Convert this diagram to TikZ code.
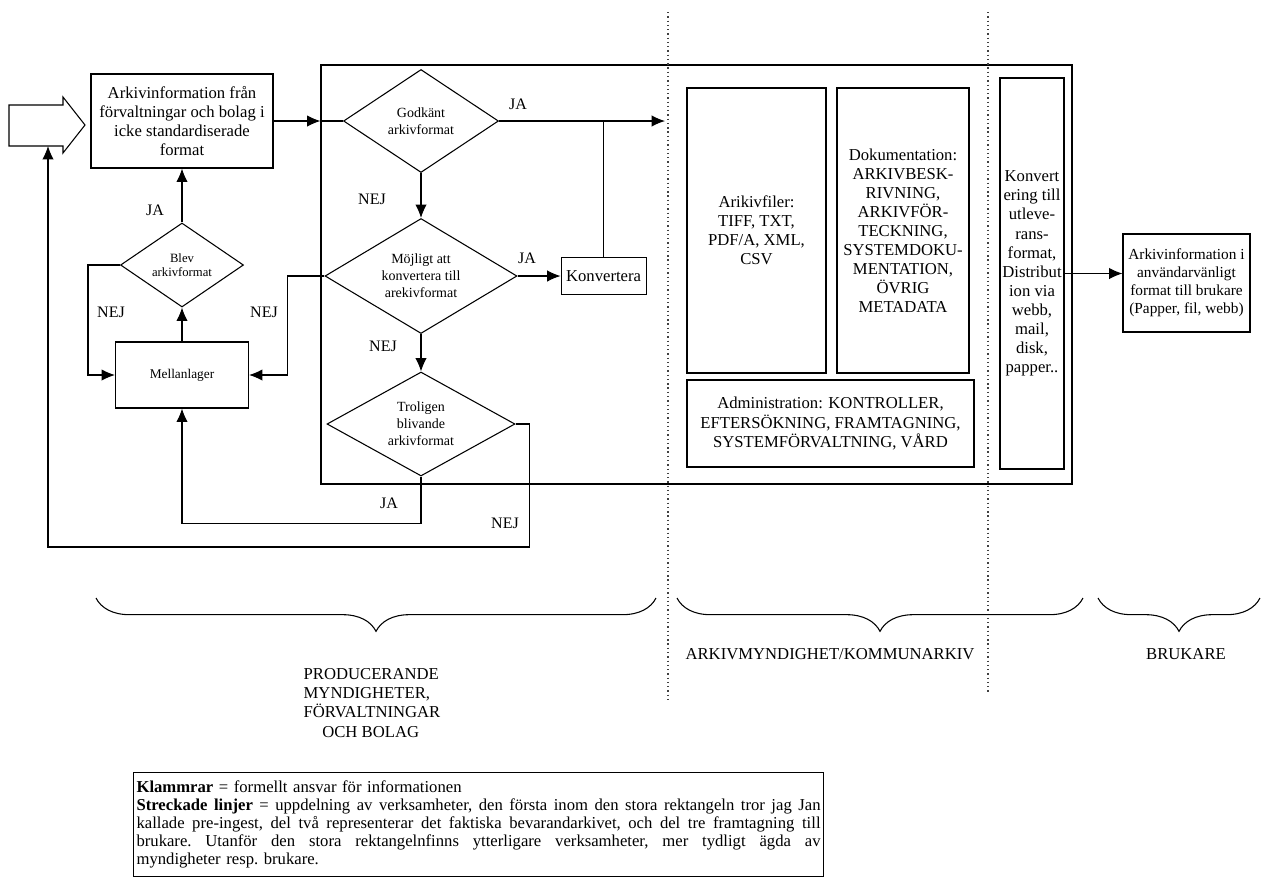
\documentclass[tikz,border=0pt]{standalone}
\usepackage{fontspec}
\setmainfont{Liberation Serif}
\usetikzlibrary{positioning,arrows.meta,shapes.geometric,decorations.pathreplacing,fit}
\newlength{\px}
\setlength{\px}{0.75pt}
\newcommand{\fmain}{\fontsize{12.5}{14.3}\selectfont}
\newcommand{\fdia}{\fontsize{10.5}{12.8}\selectfont}
\newcommand{\jline}[1]{\leavevmode\hbox to 684\px{\spaceskip=.25em plus 1fil\xspaceskip=.25em plus 1fil #1}}

\begin{document}
\begin{tikzpicture}[x=0.75pt, y=-0.75pt, line width=0.8pt,
  box/.style={draw, font=\fmain, align=center, inner sep=1pt},
  choice/.style={draw, diamond, font=\fdia, align=center, inner sep=0pt},
  lbl/.style={font=\fontsize{12}{14}\selectfont},
  arr/.style={-{Latex[length=10pt,width=8.5pt]}},
  dots/.style={line width=1pt, black!75, dash pattern=on 1pt off 2.2pt}]
\fill[white] (0,0) rectangle (1263,883);
\useasboundingbox (0,0) rectangle (1263,883);
\draw (9,105) -- (63,105) -- (63,97) -- (85,125) -- (63,153) -- (63,146) -- (9,146) -- cycle;
\coordinate (inbot) at (48,146);
\node[box, minimum width=182\px, minimum height=94\px] (info) at (182,121) {Arkivinformation från\\förvaltningar och bolag i\\icke standardiserade\\format};
\node[draw, fit={(321,65) (1072,484)}, inner sep=0pt] (stor) {};
\node[choice, aspect=1.5, minimum width=155\px, minimum height=103\px] (godk) at (421,121) {Godkänt\\arkivformat};
\node[choice, aspect=1.67, minimum width=192\px, minimum height=115\px] (moj) at (421,276) {Möjligt att\\konvertera till\\arekivformat};
\node[choice, aspect=1.8, minimum width=188\px, minimum height=104\px] (trol) at (421,424) {Troligen\\blivande\\arkivformat};
\node[box, minimum width=85\px, minimum height=37\px, right=43\px of moj] (konv) {Konvertera};
\node[choice, font=\fontsize{9.5}{11}\selectfont, aspect=1.46, minimum width=123\px, minimum height=84\px] (blev) at (182,265) {Blev\\arkivformat};
\node[box, font=\fontsize{10}{12}\selectfont, minimum width=133\px, minimum height=66\px] (mell) at (182,375) {Mellanlager};
\node[box, minimum width=139\px, minimum height=285\px] (filer) at (756.5,230.5) {Arikivfiler:\\TIFF, TXT,\\PDF/A, XML,\\CSV};
\node[box, minimum width=132\px, minimum height=285\px] (dok) at (903,230.5) {Dokumentation:\\ARKIVBESK-\\RIVNING,\\ARKIVFÖR-\\TECKNING,\\SYSTEMDOKU-\\MENTATION,\\ÖVRIG\\METADATA};
\node[box, minimum width=287\px, minimum height=87\px] (adm) at (830.5,423.5) {Administration: KONTROLLER,\\EFTERSÖKNING, FRAMTAGNING,\\SYSTEMFÖRVALTNING, VÅRD};
\node[box, inner sep=0pt, minimum width=64\px, minimum height=391\px] (utlev) at (1032,273.5) {Konvert\\ering till\\utleve-\\rans-\\format,\\Distribut\\ion via\\webb,\\mail,\\disk,\\papper..};
\node[box, font=\fontsize{11.5}{13.5}\selectfont, minimum width=127\px, minimum height=98\px] (bruk) at (1186.5,283) {Arkivinformation i\\användarvänligt\\format till brukare\\(Papper, fil, webb)};
\coordinate (arkivin) at (665,121);
\draw[arr] (info.east) -- (info.east -| stor.west);
\draw (info.east -| stor.west) -- (godk.west);
\draw[arr] (godk.east) -- (arkivin);
\draw[arr] (godk.south) -- (moj.north);
\draw[arr] (moj.east) -- (konv.west);
\draw (konv.north) -- (konv.north |- godk.east);
\draw[arr] (moj.south) -- (trol.north);
\draw[arr] (moj.west) -- ++(-37,0) |- (mell.east);
\draw[arr] (mell.north) -- (blev.south);
\draw[arr] (blev.north) -- (info.south);
\draw[arr] (blev.west) -- ++(-32,0) |- (mell.west);
\draw[arr] (trol.south) -- ++(0,47) -| (mell.south);
\draw[arr] (trol.east) -- ++(14,0) -- ++(0,123) -| (inbot);
\draw[arr] (utlev.east) -- (utlev.east -| bruk.west);
\node[lbl] (jaGodk) at (518,104) {JA};
\node[lbl] (nejGodk) at (372,199) {NEJ};
\node[lbl] (jaMoj) at (527,258) {JA};
\node[lbl] (nejMoj) at (264,312) {NEJ};
\node[lbl] (nejMoj2) at (383,346) {NEJ};
\node[lbl] (jaBlev) at (155,210) {JA};
\node[lbl] (nejBlev) at (111,312) {NEJ};
\node[lbl] (jaTrol) at (389,503) {JA};
\node[lbl] (nejTrol) at (505,523) {NEJ};
\draw[dots] (668,12) -- (668,700);
\draw[dots] (988,12) -- (988,692);
\draw[decorate, decoration={brace, mirror, amplitude=25pt}] (96,598) -- (656,598);
\draw[decorate, decoration={brace, mirror, amplitude=25pt}] (677,598) -- (1083,598);
\draw[decorate, decoration={brace, mirror, amplitude=25pt}] (1098,598) -- (1260,598);
\node[font=\fmain, align=left] (prodlbl) at (372,703) {PRODUCERANDE\\MYNDIGHETER,\\FÖRVALTNINGAR\\\hspace*{14pt}OCH BOLAG};
\node[font=\fmain] (arklbl) at (830,654) {ARKIVMYNDIGHET/KOMMUNARKIV};
\node[font=\fmain] (brlbl) at (1186,654) {BRUKARE};
\node[draw, anchor=north west, text width=684\px, inner sep=3\px, minimum height=104\px, font=\fontsize{12.5}{13.6}\selectfont\frenchspacing, align=left] (legend) at (133,772) {\textbf{Klammrar} = formellt ansvar för informationen\\
\jline{\textbf{Streckade linjer} = uppdelning av verksamheter, den första inom den stora rektangeln tror jag Jan}\\
\jline{kallade pre-ingest, del två representerar det faktiska bevarandarkivet, och del tre framtagning till}\\
\jline{brukare. Utanför den stora rektangelnfinns ytterligare verksamheter, mer tydligt ägda av}\\
myndigheter resp. brukare.};
\end{tikzpicture}
\end{document}
